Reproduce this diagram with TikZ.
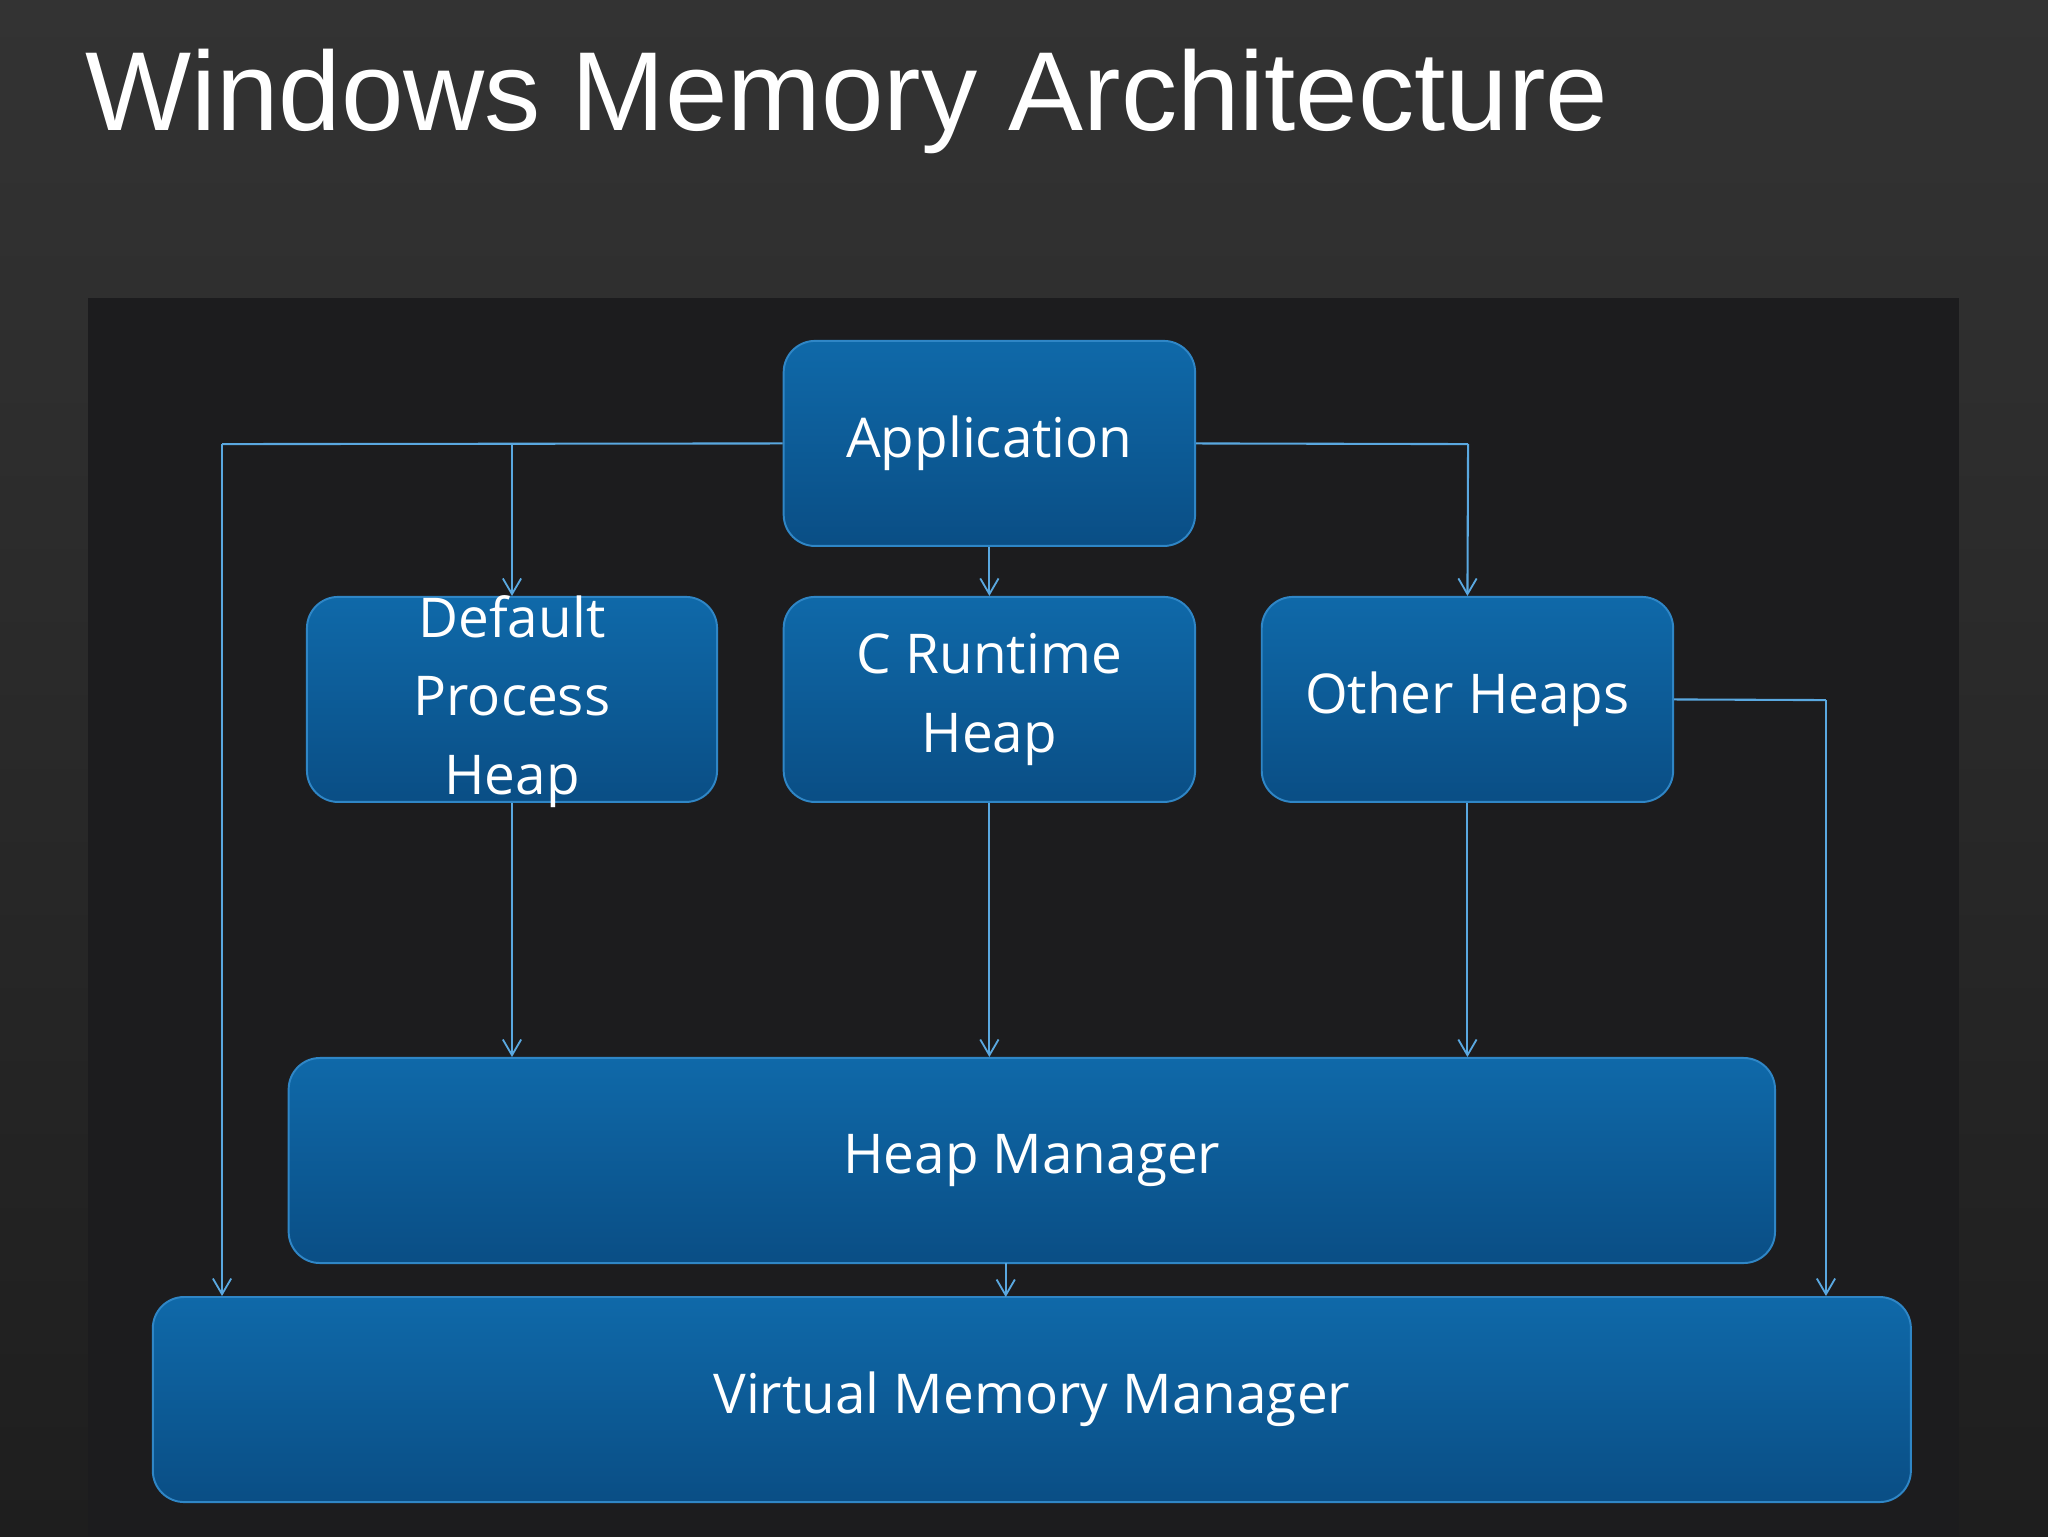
\documentclass[tikz,border=0pt]{standalone}
\usepackage{fontspec}
\setmainfont{Open Sans}
\newfontfamily\titlefont{Liberation Sans}
\usetikzlibrary{arrows.meta}
\definecolor{bgtop}{HTML}{333333}
\definecolor{bgbot}{HTML}{1E1E1E}
\definecolor{panel}{HTML}{1C1C1E}
\definecolor{btop}{HTML}{0F69A9}
\definecolor{bbot}{HTML}{0A4E85}
\definecolor{bedge}{HTML}{2F86C6}
\definecolor{wire}{HTML}{5AA8E0}
\begin{document}
\begin{tikzpicture}[x=1pt,y=-1pt,
  box/.style={draw=bedge,line width=1.5pt,rounded corners=24pt,top color=btop,bottom color=bbot,
    text=white,font=\fontsize{42}{60}\selectfont,align=center,inner sep=0pt},
  wire/.style={draw=wire,line width=1.6pt,-{Straight Barb[length=12pt,width=14pt,line width=1.4pt]}},
  line/.style={draw=wire,line width=1.6pt}]
\shade[top color=bgtop,bottom color=bgbot] (0,0) rectangle (1568,1176);
\useasboundingbox (0,0) rectangle (1568,1176);
\fill[panel] (67,228) rectangle (1500,1176);
\node[anchor=base west,text=white,inner sep=0pt,font=\titlefont\fontsize{86}{90}\selectfont] (title) at (65,100) {Windows Memory Architecture};
\node[box,minimum width=315pt,minimum height=157pt] (app) at (757.5,339.5) {Application};
\node[box,minimum width=314pt,minimum height=157pt] (def) at (392,535.5) {};
\node[text=white,font=\fontsize{42}{60}\selectfont,align=center] (deft) at (392,537) {Default\\Process\\Heap};
\node[box,minimum width=315pt,minimum height=157pt] (crt) at (757.5,535.5) {C Runtime\\Heap};
\node[box,minimum width=315pt,minimum height=157pt] (oth) at (1123.5,535.5) {Other Heaps};
\node[box,minimum width=1138pt,minimum height=157pt] (hm) at (790,888.5) {Heap Manager};
\node[box,minimum width=1346pt,minimum height=157pt] (vmm) at (790,1071.5) {Virtual Memory Manager};
\coordinate (c1) at (170,340);
\coordinate (c2) at (392,340);
\coordinate (c3) at (1124,340);
\coordinate (c4) at (1398,536);
\draw[line] (app.west) -- (c1);
\draw[wire] (c1) -- (c1 |- vmm.north);
\draw[wire] (c2) -- (def.north);
\draw[wire] (app.south) -- (crt.north);
\draw[line] (app.east) -- (c3);
\draw[wire] (c3) -- (oth.north);
\draw[line] (oth.east) -- (c4);
\draw[wire] (c4) -- (c4 |- vmm.north);
\draw[wire] (def.south) -- (def.south |- hm.north);
\draw[wire] (crt.south) -- (crt.south |- hm.north);
\draw[wire] (oth.south) -- (oth.south |- hm.north);
\draw[wire] (770,967) -- (770,993);
\end{tikzpicture}
\end{document}
